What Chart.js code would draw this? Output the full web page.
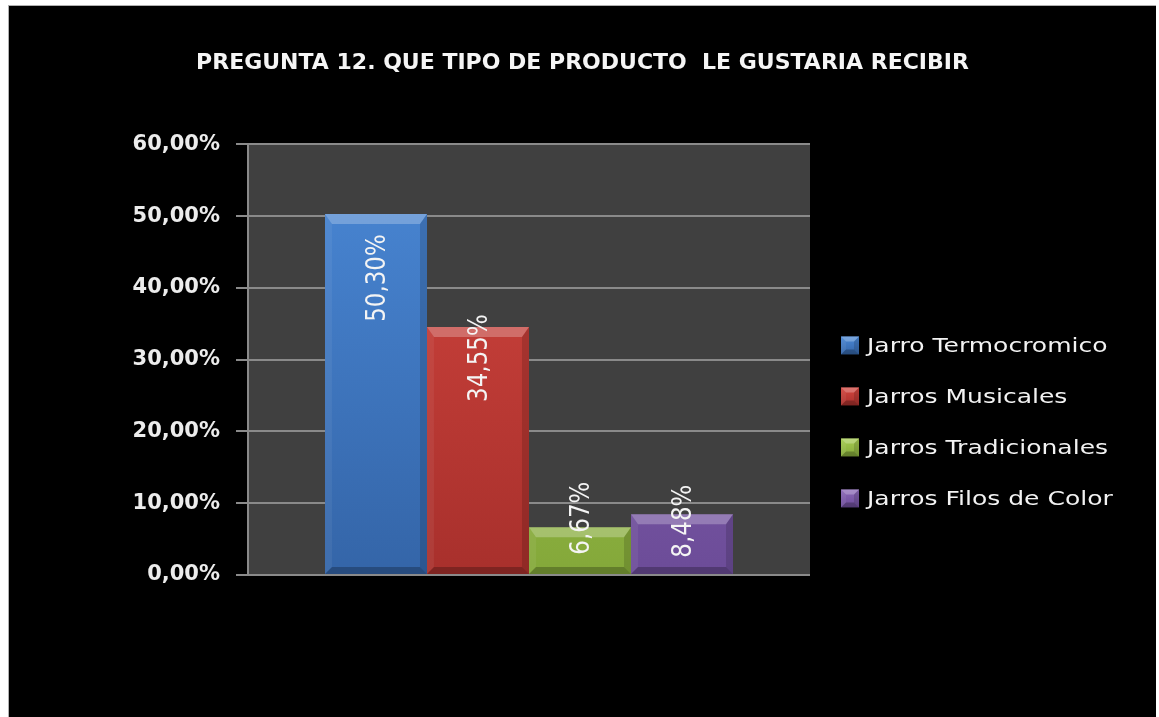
<!DOCTYPE html>
<html>
<head>
<meta charset="utf-8">
<script src="https://cdn.jsdelivr.net/npm/chart.js@4.4.1/dist/chart.umd.min.js"></script>
<style>
  html, body { margin: 0; padding: 0; background: #fff; }
  #wrap {
    position: absolute;
    left: 8px;
    top: 5px;
    width: 1148px;
    height: 712px;
    background: #000;
    border-top: 1px solid #b0b0b0;
    border-left: 1px solid #b0b0b0;
    box-sizing: border-box;
  }
</style>
</head>
<body>
<div id="wrap"><canvas id="chart" width="1147" height="711"></canvas></div>
<script>
// Pregunta 12 - tipo de producto
const titleText = 'PREGUNTA 12. QUE TIPO DE PRODUCTO  LE GUSTARIA RECIBIR';
const productos = ['Jarro Termocromico', 'Jarros Musicales', 'Jarros Tradicionales', 'Jarros Filos de Color'];
const porcentajes = [50.30, 34.55, 6.67, 8.48];
const yTicks = [0, 10, 20, 30, 40, 50, 60];

const barColors = [
  ['#4a88d6', '#3465a8'],
  ['#d4463f', '#a8302c'],
  ['#a6cc50', '#84a83a'],
  ['#8c68b8', '#6c4c98']
];
// vertical offset of each rotated value label from its bar top
const labelShift = [64, 31, -9, 7];

function fmt(v, dec) {
  return v.toFixed(dec).replace('.', ',') + '%';
}

function gradientFor(i) {
  return function (ctx) {
    const area = ctx.chart.chartArea;
    if (!area) return barColors[i][0];
    const g = ctx.chart.ctx.createLinearGradient(0, area.top, 0, area.bottom);
    g.addColorStop(0, barColors[i][0]);
    g.addColorStop(1, barColors[i][1]);
    return g;
  };
}

// dark plot background
const plotBg = {
  id: 'plotBg',
  beforeDraw(chart) {
    const { ctx, chartArea: a } = chart;
    ctx.save();
    ctx.fillStyle = '#404040';
    ctx.fillRect(a.left, a.top, a.right - a.left, a.bottom - a.top);
    ctx.restore();
  }
};

function bevel(ctx, l, t, r, b, s, st) {
  const poly = (pts, color) => {
    ctx.beginPath();
    ctx.moveTo(pts[0][0], pts[0][1]);
    for (let k = 1; k < pts.length; k++) ctx.lineTo(pts[k][0], pts[k][1]);
    ctx.closePath();
    ctx.fillStyle = color;
    ctx.fill();
  };
  poly([[l, t], [r, t], [r - s, t + st], [l + s, t + st]], 'rgba(255,255,255,0.25)');
  poly([[l, t], [l + s, t + st], [l + s, b - s], [l, b]], 'rgba(255,255,255,0.06)');
  poly([[r, t], [r, b], [r - s, b - s], [r - s, t + st]], 'rgba(0,0,0,0.14)');
  poly([[l, b], [r, b], [r - s, b - s], [l + s, b - s]], 'rgba(0,0,0,0.25)');
}

// 3D edges on bars + rotated value labels
const barDeco = {
  id: 'barDeco',
  afterDatasetsDraw(chart) {
    const ctx = chart.ctx;
    ctx.save();
    chart.data.datasets.forEach((ds, i) => {
      const el = chart.getDatasetMeta(i).data[0];
      const p = el.getProps(['x', 'y', 'base', 'width'], true);
      const l = p.x - p.width / 2, r = p.x + p.width / 2;
      bevel(ctx, l, p.y, r, p.base, 7, 10);
    });
    chart.data.datasets.forEach((ds, i) => {
      const el = chart.getDatasetMeta(i).data[0];
      const p = el.getProps(['x', 'y'], true);
      ctx.save();
      ctx.translate(p.x + 2, p.y + labelShift[i]);
      ctx.scale(1.15, 1);
      ctx.rotate(-Math.PI / 2);
      ctx.font = '23px "DejaVu Sans"';
      ctx.fillStyle = '#f4f4f4';
      ctx.textAlign = 'center';
      ctx.textBaseline = 'middle';
      ctx.fillText(fmt(ds.data[0], 2), 0, 0);
      ctx.restore();
    });
    ctx.restore();
  }
};

// legend on the right
const sideLegend = {
  id: 'sideLegend',
  afterDraw(chart) {
    const ctx = chart.ctx;
    const a = chart.chartArea;
    const x0 = a.right + 31;
    ctx.save();
    chart.data.datasets.forEach((ds, i) => {
      const cy = a.top + 201 + i * 51;
      const g = ctx.createLinearGradient(0, cy - 9, 0, cy + 9);
      g.addColorStop(0, barColors[i][0]);
      g.addColorStop(1, barColors[i][1]);
      ctx.fillStyle = g;
      ctx.fillRect(x0, cy - 9, 18, 18);
      bevel(ctx, x0, cy - 9, x0 + 18, cy + 9, 5, 5);
      ctx.save();
      ctx.translate(x0 + 26, cy + 1);
      ctx.scale(1.25, 1);
      ctx.font = '20px "DejaVu Sans"';
      ctx.fillStyle = '#f2f2f2';
      ctx.textBaseline = 'middle';
      ctx.fillText(ds.label, 0, 0);
      ctx.restore();
    });
    ctx.restore();
  }
};

new Chart(document.getElementById('chart'), {
  type: 'bar',
  data: {
    labels: [''],
    datasets: productos.map((name, i) => ({
      label: name,
      data: [porcentajes[i]],
      backgroundColor: gradientFor(i),
      borderWidth: 0,
      categoryPercentage: 0.726,
      barPercentage: 1
    }))
  },
  options: {
    responsive: false,
    animation: false,
    devicePixelRatio: 1,
    layout: { padding: { top: 0, left: 0, right: 0, bottom: 142 } },
    plugins: {
      legend: { display: false },
      tooltip: { enabled: false },
      title: {
        display: true,
        text: titleText,
        color: '#f5f5f5',
        font: { family: 'DejaVu Sans', size: 22, weight: 'bold' },
        padding: { top: 44, bottom: 68 }
      }
    },
    scales: {
      x: { display: false },
      y: {
        min: 0,
        max: 60,
        afterBuildTicks(scale) {
          scale.ticks = yTicks.map(v => ({ value: v }));
        },
        afterFit(scale) { scale.width = 239; },
        grid: { color: '#8a8a8a', lineWidth: 2, tickLength: 12, tickColor: '#8a8a8a' },
        border: { display: true, color: '#8a8a8a', width: 2 },
        ticks: {
          color: '#ececec',
          padding: 16,
          font: { family: 'DejaVu Sans', size: 21, weight: 'bold' },
          callback: v => fmt(v, 2)
        }
      },
      y2: {
        position: 'right',
        display: true,
        grid: { display: false, drawTicks: false },
        border: { display: false },
        ticks: { display: false },
        afterFit(scale) { scale.width = 346; }
      }
    }
  },
  plugins: [plotBg, barDeco, sideLegend]
});
</script>
</body>
</html>
